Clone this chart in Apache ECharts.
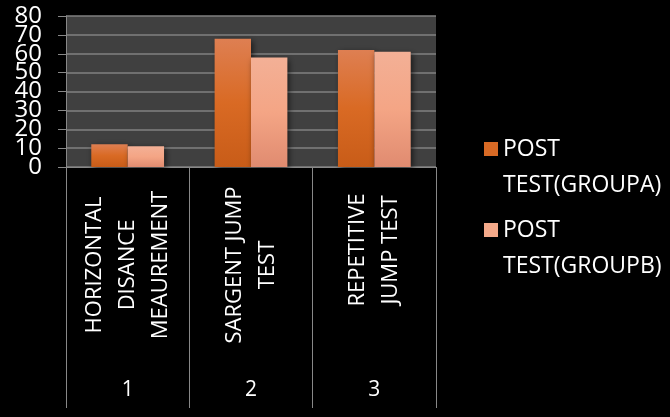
<!DOCTYPE html>
<html>
<head>
<meta charset="utf-8">
<script src="https://cdn.jsdelivr.net/npm/echarts@6/dist/echarts.min.js"></script>
<style>
  html, body { margin: 0; padding: 0; background: #000; }
  #chart { width: 670px; height: 417px; }
</style>
</head>
<body>
<div id="chart"></div>
<script>
// data
const categories = ['HORIZONTAL\nDISANCE\nMEAUREMENT', 'SARGENT JUMP\nTEST', 'REPETITIVE\nJUMP TEST'];
const groupNumbers = ['1', '2', '3'];
const seriesNames = ['POST\nTEST(GROUPA)', 'POST\nTEST(GROUPB)'];
const groupA = [12, 68, 62];
const groupB = [11, 58, 61];
const yMin = 0, yMax = 80, yStep = 10;
const yLabelsEven = [0, 20, 40, 60, 80];
const yLabelsOdd = [10, 30, 50, 70];

const font = '"Open Sans", "DejaVu Sans", sans-serif';

function grad(top, mid, bottom) {
  return {
    type: 'linear', x: 0, y: 0, x2: 0, y2: 1,
    colorStops: [
      { offset: 0, color: top },
      { offset: 0.5, color: mid },
      { offset: 1, color: bottom }
    ]
  };
}

const catText = { color: '#fff', fontFamily: font, fontSize: 22, lineHeight: 33 };
const yText = { color: '#fff', fontFamily: font, fontSize: 24 };

const myChart = echarts.init(document.getElementById('chart'));
myChart.setOption({
  backgroundColor: '#000',
  animation: false,
  grid: {
    left: 66, right: 234, top: 16, bottom: 250,
    outerBoundsMode: 'none',
    show: true, backgroundColor: '#404040', borderWidth: 0
  },
  legend: {
    orient: 'vertical',
    left: 479, top: 90,
    itemWidth: 14, itemHeight: 14,
    itemGap: -27,
    icon: 'rect',
    // leading empty line keeps the square level with the first text line
    formatter: name => '\n' + name,
    textStyle: {
      color: '#fff', fontFamily: font, fontSize: 23, lineHeight: 36
    },
    data: [
      { name: seriesNames[0], itemStyle: { color: '#d86a25' } },
      { name: seriesNames[1], itemStyle: { color: '#f4a98a' } }
    ]
  },
  xAxis: [{
    type: 'category',
    data: categories,
    axisLine: { lineStyle: { color: '#888', width: 1 } },
    axisTick: { show: false },
    axisLabel: {
      interval: 0,
      rotate: 90,
      align: 'center',
      verticalAlign: 'middle',
      margin: 98,
      formatter: (v, i) => v.split('\n').map(s => (i === 2 ? '{r|' : '{c|') + s + '}').join('\n'),
      rich: {
        c: catText,
        // last label is pushed toward the top in the original
        r: Object.assign({ padding: [0, 0, 0, 30] }, catText)
      }
    }
  }, {
    type: 'category',
    position: 'bottom',
    data: groupNumbers,
    axisLine: { show: false },
    axisTick: { show: true, interval: 0, length: 241, lineStyle: { color: '#888' } },
    axisLabel: {
      interval: 0,
      margin: 213,
      color: '#fff',
      fontFamily: font,
      fontSize: 21
    }
  }],
  // two left axes share the scale so the big, tightly packed labels all show
  yAxis: [{
    type: 'value',
    min: yMin, max: yMax, interval: yStep,
    axisLine: { show: true, lineStyle: { color: '#888' } },
    axisTick: { show: true, length: 8, lineStyle: { color: '#888' } },
    axisLabel: Object.assign({ margin: 24, customValues: yLabelsEven }, yText),
    splitLine: { show: true, lineStyle: { color: '#808080', width: 1.5 } }
  }, {
    type: 'value',
    position: 'left',
    min: yMin, max: yMax, interval: yStep,
    axisLine: { show: false },
    axisTick: { show: false },
    axisLabel: Object.assign({ margin: 24, customValues: yLabelsOdd }, yText),
    splitLine: { show: false }
  }],
  series: [{
    name: seriesNames[0],
    type: 'bar',
    data: groupA,
    barGap: '0%',
    barCategoryGap: '41%',
    itemStyle: {
      color: grad('#de7f52', '#d96a24', '#c85c18'),
      shadowColor: 'rgba(0,0,0,0.6)', shadowBlur: 6, shadowOffsetX: 2, shadowOffsetY: 2
    }
  }, {
    name: seriesNames[1],
    type: 'bar',
    data: groupB,
    itemStyle: {
      color: grad('#f3b096', '#f4a585', '#e08b70'),
      shadowColor: 'rgba(0,0,0,0.6)', shadowBlur: 6, shadowOffsetX: 2, shadowOffsetY: 2
    }
  }]
});
</script>
</body>
</html>
